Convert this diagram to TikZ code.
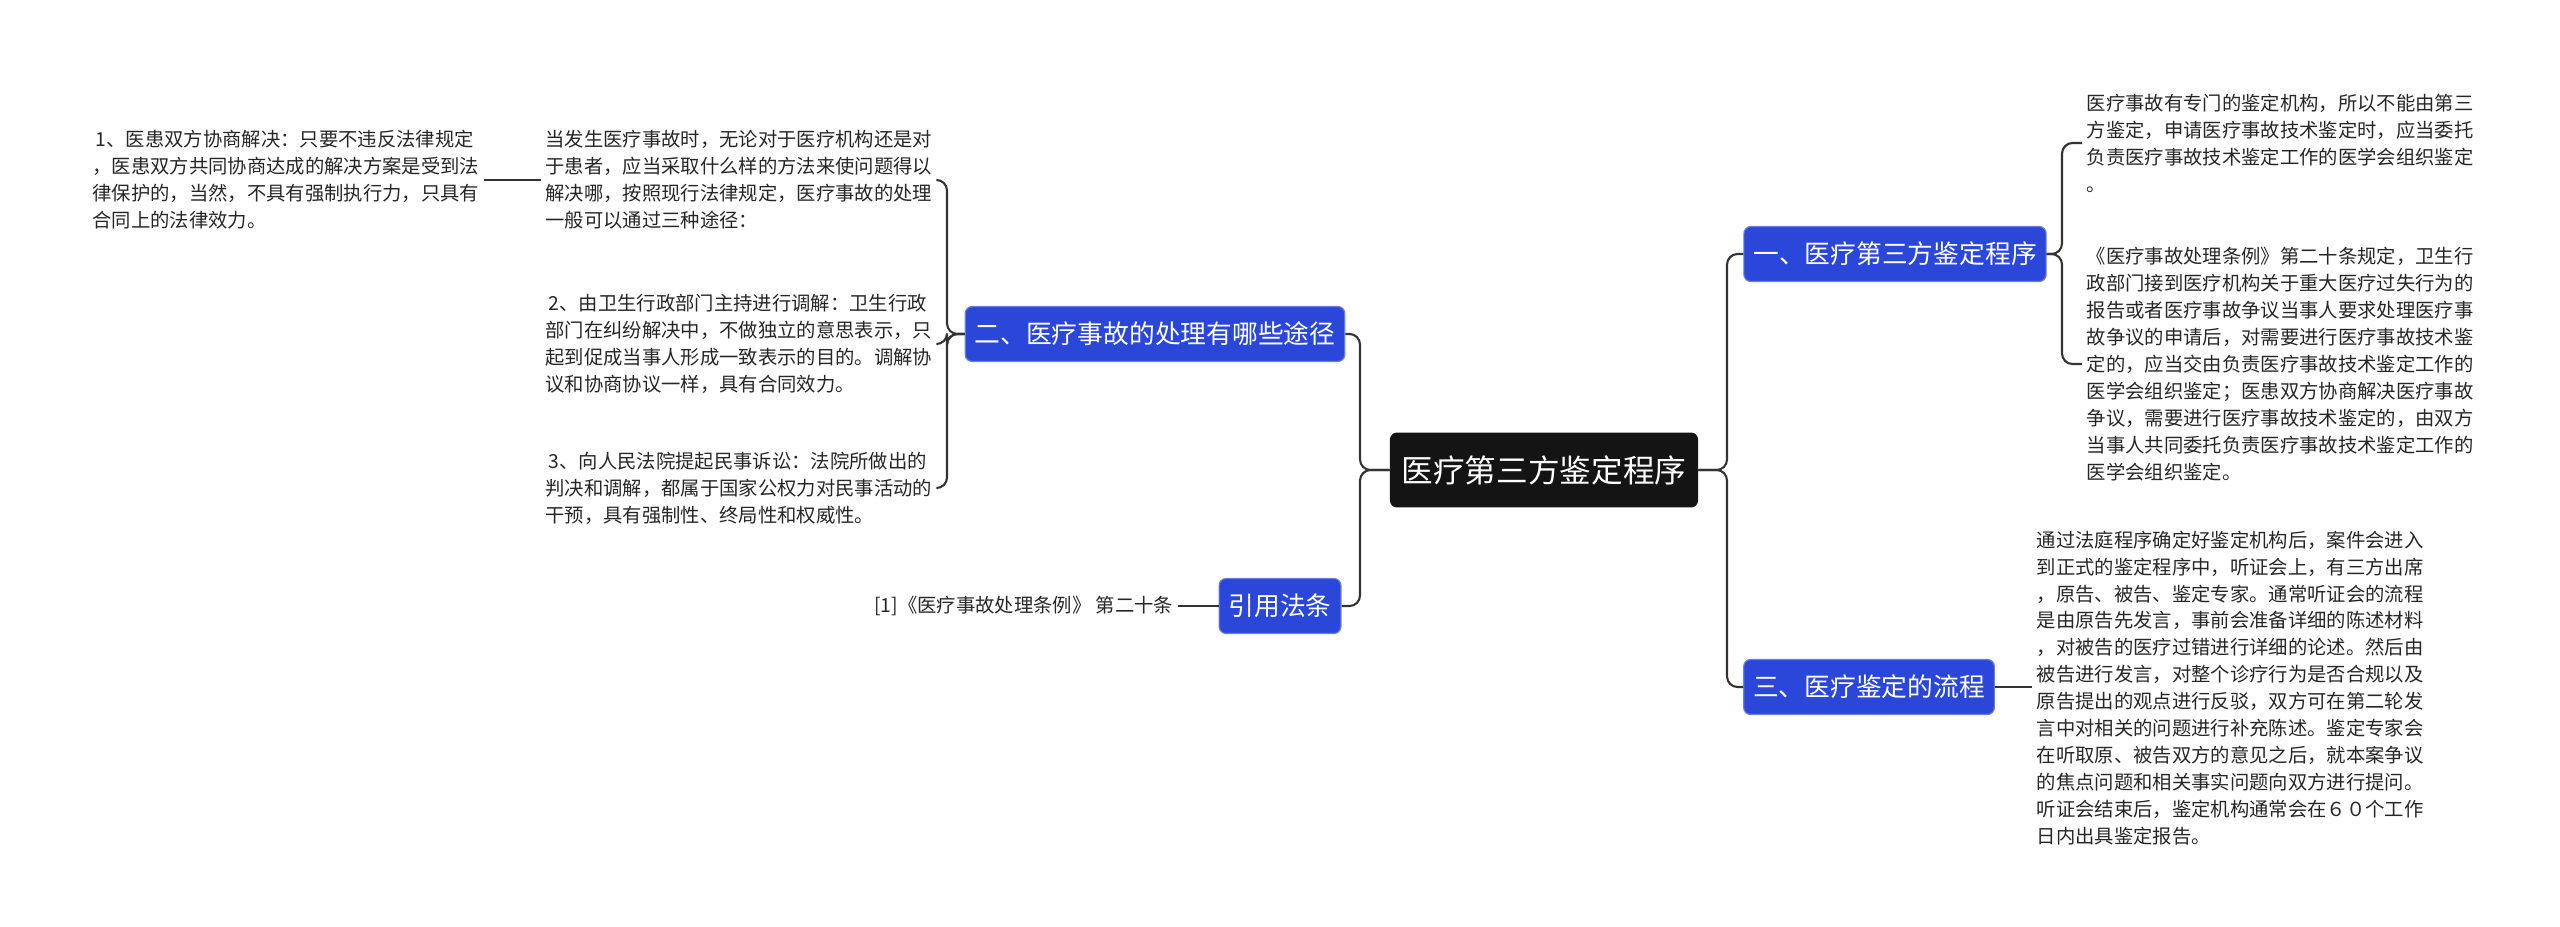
\documentclass[tikz,border=0pt]{standalone}
\usepackage{fontspec}
\setmainfont{Noto Sans CJK SC}
\usetikzlibrary{calc}
\definecolor{nblue}{HTML}{2B47D9}
\definecolor{lnc}{HTML}{333333}
\begin{document}
\begin{tikzpicture}[x=0.3mm,y=-0.3mm,
  conn/.style={draw=lnc,line width=1.8pt,rounded corners=9pt},
  topic/.style={rectangle,rounded corners=6pt,fill=nblue,draw=nblue!70!white,line width=1pt,text=white,font=\fontsize{22}{26}\selectfont,inner xsep=8pt,minimum height=47pt},
  root/.style={rectangle,rounded corners=6pt,fill=black!92,text=white,font=\fontsize{27}{32}\selectfont,inner xsep=10pt,minimum height=64pt},
  txt/.style={align=left,font=\fontsize{16.5}{23}\selectfont,text=black!85,inner sep=4pt}]
\useasboundingbox (0,0) rectangle (2560,926);
\node[root] (c) at (1544,470) {医疗第三方鉴定程序};
\node[topic] (b2) at (1155,334) {二、医疗事故的处理有哪些途径};
\node[topic] (br) at (1280,606) {引用法条};
\node[topic] (b1) at (1895,254) {一、医疗第三方鉴定程序};
\node[topic] (b3) at (1869,687) {三、医疗鉴定的流程};

\node[txt,anchor=east] (t0) at (937,180) {当发生医疗事故时，无论对于医疗机构还是对\\于患者，应当采取什么样的方法来使问题得以\\解决哪，按照现行法律规定，医疗事故的处理\\一般可以通过三种途径：};
\node[txt,anchor=east] (t2) at (937,344) {\,2、由卫生行政部门主持进行调解：卫生行政\\部门在纠纷解决中，不做独立的意思表示，只\\起到促成当事人形成一致表示的目的。调解协\\议和协商协议一样，具有合同效力。};
\node[txt,anchor=east] (t3) at (937,488) {\,3、向人民法院提起民事诉讼：法院所做出的\\判决和调解，都属于国家公权力对民事活动的\\干预，具有强制性、终局性和权威性。};
\node[txt,anchor=east] (t1) at (484,180) {\,1、医患双方协商解决：只要不违反法律规定\\，医患双方共同协商达成的解决方案是受到法\\律保护的，当然，不具有强制执行力，只具有\\合同上的法律效力。};
\node[txt,anchor=east] (tr) at (1178,606) {[1]《医疗事故处理条例》 第二十条};
\node[txt,anchor=west] (ta) at (2082,143) {医疗事故有专门的鉴定机构，所以不能由第三\\方鉴定，申请医疗事故技术鉴定时，应当委托\\负责医疗事故技术鉴定工作的医学会组织鉴定\\。};
\node[txt,anchor=west] (tb) at (2082,364) {《医疗事故处理条例》第二十条规定，卫生行\\政部门接到医疗机构关于重大医疗过失行为的\\报告或者医疗事故争议当事人要求处理医疗事\\故争议的申请后，对需要进行医疗事故技术鉴\\定的，应当交由负责医疗事故技术鉴定工作的\\医学会组织鉴定；医患双方协商解决医疗事故\\争议，需要进行医疗事故技术鉴定的，由双方\\当事人共同委托负责医疗事故技术鉴定工作的\\医学会组织鉴定。};
\node[txt,anchor=west] (tc) at (2032,688) {通过法庭程序确定好鉴定机构后，案件会进入\\到正式的鉴定程序中，听证会上，有三方出席\\，原告、被告、鉴定专家。通常听证会的流程\\是由原告先发言，事前会准备详细的陈述材料\\，对被告的医疗过错进行详细的论述。然后由\\被告进行发言，对整个诊疗行为是否合规以及\\原告提出的观点进行反驳，双方可在第二轮发\\言中对相关的问题进行补充陈述。鉴定专家会\\在听取原、被告双方的意见之后，就本案争议\\的焦点问题和相关事实问题向双方进行提问。\\听证会结束后，鉴定机构通常会在６０个工作\\日内出具鉴定报告。};

\foreach \n in {b2,br} \draw[conn] (c.west) -- (1360,470) |- (\n.east);
\foreach \n in {b1,b3} \draw[conn] (c.east) -- (1727,470) |- (\n.west);
\foreach \n in {t0,t2,t3} \draw[conn] (b2.west) -- (947,334) |- (\n.east);
\draw[conn] (t0.west) -- (t1.east);
\draw[conn] (br.west) -- (tr.east);
\foreach \n in {ta,tb} \draw[conn] (b1.east) -- (2062,254) |- (\n.west);
\draw[conn] (b3.east) -- (tc.west |- b3.east);
\end{tikzpicture}
\end{document}
